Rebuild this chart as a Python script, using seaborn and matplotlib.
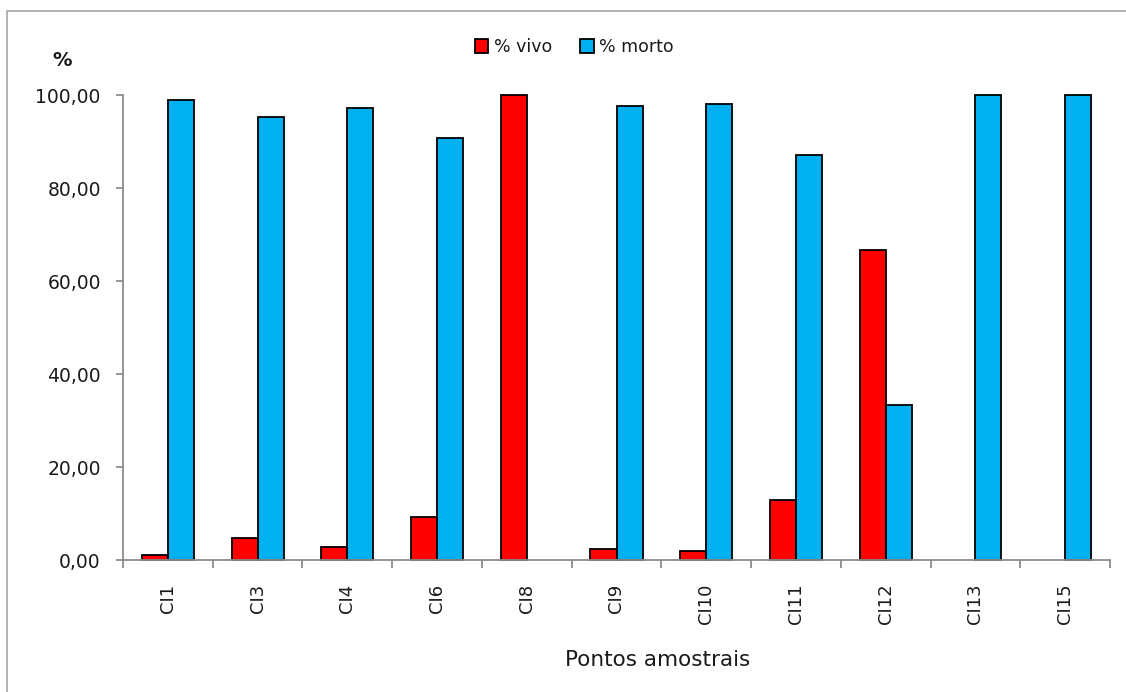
import matplotlib
matplotlib.use("Agg")
import matplotlib.pyplot as plt
import matplotlib.patches as mpatches
from matplotlib.ticker import FuncFormatter, FixedLocator
import numpy as np
import pandas as pd
import seaborn as sns

# Sampling points and live/dead percentages
pontos = ["CI1", "CI3", "CI4", "CI6", "CI8", "CI9", "CI10", "CI11", "CI12", "CI13", "CI15"]
pct_vivo = [1.1, 4.7, 2.8, 9.3, 100.0, 2.4, 2.0, 12.9, 66.67, 0.0, 0.0]
pct_morto = [98.9, 95.3, 97.2, 90.7, 0.0, 97.6, 98.0, 87.1, 33.33, 100.0, 100.0]
series = ["% vivo", "% morto"]
cores = ["#FF0000", "#00B0F0"]

df = pd.DataFrame({
    "ponto": pontos * 2,
    "serie": [series[0]] * len(pontos) + [series[1]] * len(pontos),
    "valor": pct_vivo + pct_morto,
})

sns.set_theme(style="white")
plt.rcParams["font.family"] = ["DejaVu Sans"]

W, H = 1126, 692
fig = plt.figure(figsize=(W / 100, H / 100), dpi=100)
ax = fig.add_axes([123 / W, 1 - 560 / H, (1110 - 123) / W, (560 - 95) / H])

sns.barplot(data=df, x="ponto", y="valor", hue="serie", order=pontos,
            hue_order=series, palette=cores, width=0.58, gap=0,
            edgecolor="black", linewidth=1.3, saturation=1, ax=ax, legend=False)
for p in ax.patches:
    p.set_clip_on(False)
    if p.get_height() == 0:
        p.set_linewidth(0)

gray = "#8C8C8C"
txt = "#1a1a1a"
ax.set_xlim(-0.5, len(pontos) - 0.5)
ax.set_ylim(0, 100)
ax.set_yticks(np.arange(0, 101, 20))
ax.yaxis.set_major_formatter(FuncFormatter(lambda v, _: f"{v:.2f}".replace(".", ",")))
for s in ["top", "right"]:
    ax.spines[s].set_visible(False)
for s in ["left", "bottom"]:
    ax.spines[s].set_color(gray)
    ax.spines[s].set_linewidth(1.3)
    ax.spines[s].set_zorder(5)

ax.tick_params(axis="y", which="major", left=True, length=5, width=1.3, color=gray,
               labelsize=13.5, pad=11, labelcolor=txt)
ax.tick_params(axis="x", which="major", bottom=False, labelsize=13, pad=11,
               labelrotation=90, labelcolor=txt)
ax.xaxis.set_minor_locator(FixedLocator(np.arange(-0.5, len(pontos), 1.0)))
ax.tick_params(axis="x", which="minor", bottom=True, length=6, width=1.3, color=gray)
for lbl in ax.get_xticklabels():
    lbl.set_va("top")
    lbl.set_ha("center")

ax.set_xlabel("Pontos amostrais", fontsize=15.5, color=txt)
ax.xaxis.set_label_coords(0.542, -(660 - 560) / (560 - 95))
ax.xaxis.label.set_va("center")
ax.set_ylabel("")
ax.grid(False)

fig.text(62 / W, 1 - 60 / H, "%", fontsize=14, fontweight="bold", ha="center",
         va="center", color=txt)

handles = [mpatches.Patch(facecolor=c, edgecolor="black", linewidth=1.3, label=s)
           for c, s in zip(cores, series)]
fig.legend(handles=handles, loc="center", bbox_to_anchor=(574 / W, 1 - 47 / H),
           ncol=2, frameon=False, fontsize=12.5, handlelength=0.8, handleheight=0.8,
           handletextpad=0.3, columnspacing=1.6, labelcolor=txt)

# Chart outer frame
fig.patches.append(mpatches.Rectangle((7 / W, -0.05), 1.1, 1 - 11 / H + 0.05,
                                      transform=fig.transFigure, fill=False,
                                      edgecolor="#A6A6A6", linewidth=1.2))

fig.savefig("out.png", dpi=100, facecolor="white")
